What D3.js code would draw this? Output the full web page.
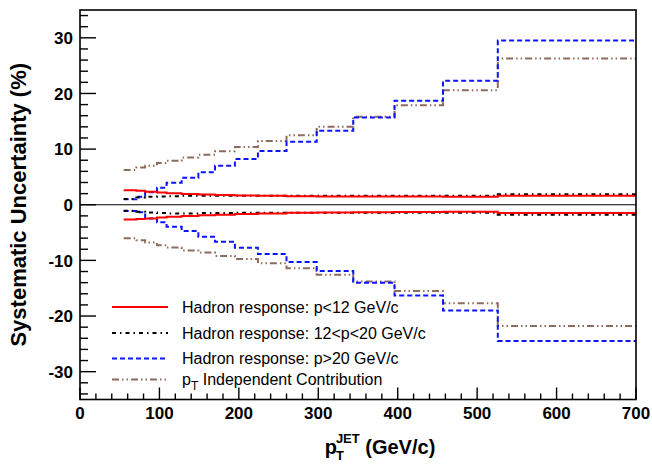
<!DOCTYPE html>
<html><head><meta charset="utf-8">
<script src="https://cdn.jsdelivr.net/npm/d3@7"></script>
<style>
html,body{margin:0;padding:0;background:#fff;}
svg{display:block;font-family:"Liberation Sans",Arial,Helvetica,sans-serif;}
</style></head>
<body><svg id="c" width="652" height="466"></svg>
<script>
// bin edges in pT (GeV/c)
const binEdges = [55, 71, 82, 97, 109, 128, 149, 170, 195, 224, 260, 298, 344, 396, 457, 526, 700];
// per-bin uncertainties (%)
const redUp    = [2.6, 2.5, 2.35, 2.2, 2.05, 1.95, 1.85, 1.75, 1.65, 1.6, 1.55, 1.5, 1.5, 1.5, 1.45, 1.6];
const redDown  = [-2.65, -2.55, -2.45, -2.3, -2.15, -2.0, -1.9, -1.8, -1.65, -1.55, -1.45, -1.4, -1.35, -1.3, -1.25, -1.5];
const blackUp  = [1.05, 1.3, 1.45, 1.5, 1.55, 1.6, 1.6, 1.6, 1.6, 1.6, 1.6, 1.6, 1.6, 1.6, 1.6, 1.9];
const blackDown= [-1.1, -1.25, -1.4, -1.5, -1.55, -1.55, -1.5, -1.5, -1.45, -1.45, -1.45, -1.45, -1.45, -1.45, -1.45, -1.8];
const blueUp   = [1.0, 1.45, 2.23, 3.07, 3.97, 4.87, 5.83, 7.03, 8.22, 9.66, 11.34, 13.3, 15.7, 18.7, 22.3, 29.5];
const blueDown = [-1.12, -1.37, -2.45, -3.16, -3.94, -4.72, -5.74, -6.63, -7.71, -8.85, -10.3, -11.9, -14.0, -16.3, -19.0, -24.5];
const brownUp  = [6.25, 6.7, 7.0, 7.5, 7.9, 8.5, 9.0, 9.6, 10.4, 11.45, 12.5, 14.0, 15.8, 17.9, 20.6, 26.3];
const brownDown= [-6.04, -6.4, -6.8, -7.3, -7.7, -8.2, -8.6, -9.2, -9.75, -10.5, -11.4, -12.6, -13.8, -15.5, -17.7, -21.8];
const xTicks = [0, 100, 200, 300, 400, 500, 600, 700];
const yTicks = [-30, -20, -10, 0, 10, 20, 30];
const legendLabels = ["Hadron response: p<12 GeV/c", "Hadron response: 12<p<20 GeV/c", "Hadron response: p>20 GeV/c", "Independent Contribution"];

const svg = d3.select("#c");
const L = 80, R = 636, T = 10, B = 399.5;
const x = d3.scaleLinear().domain([0, 700]).range([L, R]);
const y = d3.scaleLinear().domain([-35, 35]).range([B, T]);

const styles = [
  {c: "#ff0000", w: 2, d: null},
  {c: "#000000", w: 2, d: "4,4,1.5,4"},
  {c: "#0a14ff", w: 2, d: "5,3"},
  {c: "#8c6c5c", w: 2, d: "7,3,1.5,3,1.5,3"}
];
const series = [
  [redUp, redDown, 0], [blackUp, blackDown, 1], [blueUp, blueDown, 2], [brownUp, brownDown, 3]
];

// zero line
svg.append("line").attr("x1", L).attr("x2", R).attr("y1", y(0)).attr("y2", y(0))
  .attr("stroke", "#000").attr("stroke-width", 1.2);

const line = d3.line().x(d => x(d[0])).y(d => y(d[1])).curve(d3.curveStepAfter);
function pts(vals) {
  const p = vals.map((v, i) => [binEdges[i], v]);
  p.push([binEdges[binEdges.length - 1], vals[vals.length - 1]]);
  return p;
}
// draw order: brown, blue, black, red
[3, 2, 1, 0].forEach(k => {
  const s = series[k], st = styles[s[2]];
  [s[0], s[1]].forEach(vals => {
    svg.append("path").attr("d", line(pts(vals))).attr("fill", "none")
      .attr("stroke", st.c).attr("stroke-width", st.w)
      .attr("stroke-dasharray", st.d);
  });
});

// frame
svg.append("rect").attr("x", L).attr("y", T).attr("width", R - L).attr("height", B - T)
  .attr("fill", "none").attr("stroke", "#000").attr("stroke-width", 1.6);

// y axis ticks (inside)
for (let v = -34; v <= 34; v += 2) {
  const major = v % 10 === 0;
  svg.append("line").attr("x1", L).attr("x2", L + (major ? 16 : 8))
    .attr("y1", y(v)).attr("y2", y(v)).attr("stroke", "#000").attr("stroke-width", 1.4);
}
svg.selectAll(".ylab").data(yTicks).enter().append("text")
  .attr("x", L - 7).attr("y", d => y(d)).attr("dy", "0.36em")
  .attr("text-anchor", "end").attr("font-weight", "bold").attr("font-size", 17)
  .text(d => d);

// x axis ticks (inside, pointing up)
for (let v = 0; v <= 700; v += 20) {
  const major = v % 100 === 0;
  svg.append("line").attr("x1", x(v)).attr("x2", x(v))
    .attr("y1", B).attr("y2", B - (major ? 12 : 6)).attr("stroke", "#000").attr("stroke-width", 1.4);
}
svg.selectAll(".xlab").data(xTicks).enter().append("text")
  .attr("x", d => x(d)).attr("y", 419)
  .attr("text-anchor", "middle").attr("font-weight", "bold").attr("font-size", 17)
  .text(d => d);

// axis titles
svg.append("text").attr("transform", "translate(26," + ((T + B) / 2) + ") rotate(-90)")
  .attr("text-anchor", "middle").attr("font-weight", "bold").attr("font-size", 22)
  .text("Systematic Uncertainty (%)");

const xt = svg.append("text").attr("x", 380).attr("y", 454).attr("text-anchor", "middle")
  .attr("font-weight", "bold").attr("font-size", 20);
xt.append("tspan").text("p");
xt.append("tspan").attr("font-size", 13).attr("dy", 6).attr("dx", -1).text("T");
xt.append("tspan").attr("font-size", 13).attr("dy", -17).attr("dx", -8).text("JET");
xt.append("tspan").attr("dy", 11).text(" (GeV/c)");

// legend
const legY = [307, 333, 358.5, 379.5];
legendLabels.forEach((lab, i) => {
  const st = styles[i];
  svg.append("line").attr("x1", 112).attr("x2", 168).attr("y1", legY[i]).attr("y2", legY[i])
    .attr("stroke", st.c).attr("stroke-width", st.w).attr("stroke-dasharray", st.d);
  const t = svg.append("text").attr("x", 182).attr("y", legY[i]).attr("dy", "0.35em")
    .attr("font-size", 16);
  if (i === 3) {
    t.append("tspan").text("p");
    t.append("tspan").attr("font-size", 12).attr("dy", 5).text("T");
    t.append("tspan").attr("dy", -5).text(" " + lab);
  } else {
    t.text(lab);
  }
});
</script></body></html>
